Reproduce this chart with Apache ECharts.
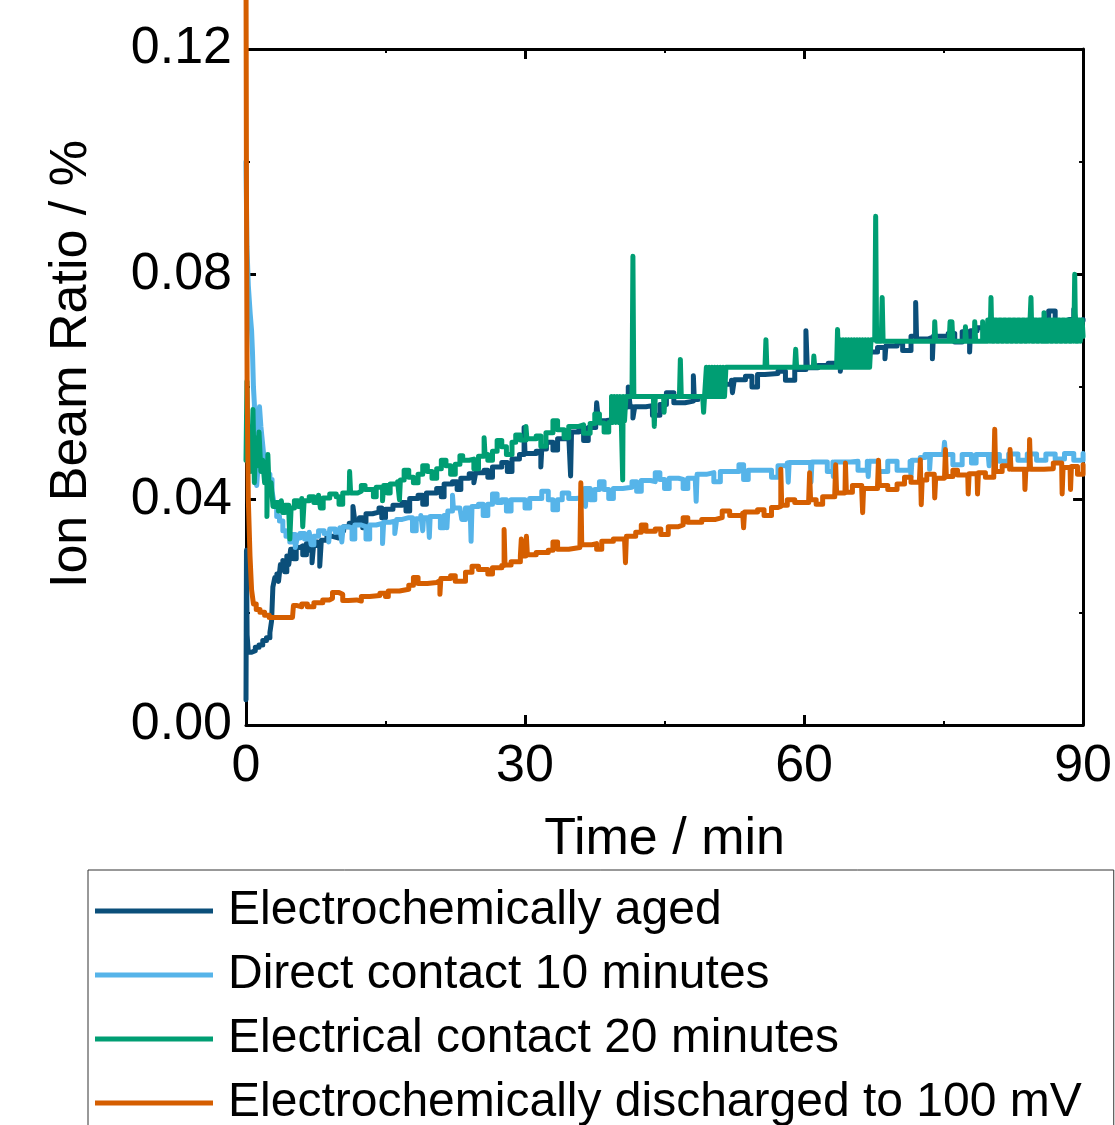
<!DOCTYPE html>
<html>
<head>
<meta charset="utf-8">
<script src="https://cdn.jsdelivr.net/npm/echarts@6/dist/echarts.min.js"></script>
<style>
html,body{margin:0;padding:0;background:#fff;}
#chart{width:1115px;height:1125px;}
</style>
</head>
<body>
<div id="chart"></div>
<script>
const seriesNames = ['Electrochemically aged', 'Direct contact 10 minutes', 'Electrical contact 20 minutes', 'Electrochemically discharged to 100 mV'];
const seriesColors = ['#0B4F7A', '#56B4E9', '#009E73', '#D55E00'];
const xTicks = [0, 30, 60, 90];
const yTicks = [0.00, 0.04, 0.08, 0.12];

const agedData = [
[0, 0.0045], [0.05, 0.031], [0.12, 0.016], [0.25, 0.0129], [0.6, 0.0132], [1.0, 0.0138], [1.4, 0.0142], [1.8, 0.0150], [2.2, 0.0155], [2.57, 0.0164], [2.75, 0.0185], [2.89, 0.0245], [3.1, 0.0262], [3.32, 0.0268], [3.5, 0.0255], [3.7, 0.0285], [3.96, 0.0292], [4.15, 0.0272], [4.39, 0.0300], [4.6, 0.0285], [4.8, 0.0312], [5.1, 0.0295], [5.4, 0.0315], [5.79, 0.0318], [6.1, 0.0302], [6.5, 0.0322], [6.8, 0.0310], [7.1, 0.0288], [7.3, 0.0325], [7.7, 0.0318], [7.93, 0.0282], [8.1, 0.0328], [8.7, 0.0335], [9.3, 0.0332], [9.9, 0.0345], [10.5, 0.0352], [11.1, 0.0358], [11.5, 0.0388], [11.7, 0.0362], [12.2, 0.0368], [12.55, 0.0350], [12.9, 0.0375], [13.6, 0.0378], [14.3, 0.0385], [14.6, 0.0368], [15.0, 0.0383], [15.8, 0.0390], [16.8, 0.0395], [17.2, 0.0380], [17.6, 0.0402], [18.5, 0.0408], [19.0, 0.0392], [19.4, 0.0412], [20.5, 0.0420], [21.0, 0.0405], [21.3, 0.0428], [22.2, 0.0432], [22.7, 0.0418], [23.1, 0.0438], [24.0, 0.0446], [24.5, 0.0430], [24.7, 0.0448], [25.6, 0.0452], [26.0, 0.0440], [26.5, 0.0458], [27.5, 0.0466], [28.1, 0.0450], [28.6, 0.0472], [29.4, 0.0480], [29.9, 0.0528], [30.0, 0.0482], [31.2, 0.0486], [31.7, 0.0458], [31.8, 0.0490], [32.3, 0.0502], [33.0, 0.0488], [33.5, 0.0508], [34.7, 0.0514], [34.9, 0.0442], [35.0, 0.0520], [35.8, 0.0530], [36.3, 0.0505], [36.8, 0.0528], [37.6, 0.0534], [37.7, 0.0572], [37.9, 0.0540], [38.7, 0.0542], [39.3, 0.0562], [40.2, 0.0565], [41.1, 0.0600], [41.3, 0.0565], [41.6, 0.0545], [41.8, 0.0565], [43.0, 0.0567], [43.7, 0.0550], [44.5, 0.0569], [45.2, 0.0590], [46.0, 0.0572], [47.2, 0.0575], [48.1, 0.0620], [48.2, 0.0578], [48.6, 0.0583], [49.5, 0.0590], [50.0, 0.0600], [51.0, 0.0605], [52.2, 0.0612], [52.3, 0.0590], [52.5, 0.0613], [53.7, 0.0619], [54.4, 0.0600], [55.0, 0.0622], [55.8, 0.0624], [57.2, 0.0628], [58.0, 0.0612], [59.0, 0.0631], [60.2, 0.0700], [60.35, 0.0634], [61.5, 0.0638], [62.6, 0.0642], [63.9, 0.0628], [64.0, 0.0648], [65.2, 0.0655], [65.8, 0.0640], [66.5, 0.0662], [67.9, 0.0670], [68.7, 0.0650], [68.8, 0.0673], [70.0, 0.0678], [70.6, 0.0665], [71.5, 0.0690], [72.0, 0.0750], [72.1, 0.0685], [73.3, 0.0688], [73.8, 0.0650], [73.9, 0.0690], [75.5, 0.0695], [76.2, 0.0680], [77.0, 0.0698], [77.8, 0.0662], [77.9, 0.0700], [78.6, 0.0705], [80.0, 0.0708], [81.5, 0.0710], [82.2, 0.0695], [83.0, 0.0712], [84.0, 0.0714], [85.5, 0.0715], [86.3, 0.0735], [87.0, 0.0716], [88.5, 0.0720], [89.0, 0.0738], [89.2, 0.0718], [90.0, 0.0720]
];

const directData = [
[0, 0.100], [0.1, 0.085], [0.25, 0.078], [0.45, 0.073], [0.6, 0.070], [0.7, 0.066], [0.8, 0.060], [0.9, 0.057], [0.96, 0.050], [1.05, 0.044], [1.15, 0.0425], [1.3, 0.046], [1.45, 0.0565], [1.6, 0.053], [1.75, 0.0505], [1.9, 0.048], [2.1, 0.0465], [2.3, 0.0445], [2.57, 0.0436], [2.8, 0.0415], [3.0, 0.0395], [3.3, 0.037], [3.6, 0.0362], [3.96, 0.0345], [4.3, 0.0335], [4.71, 0.0325], [5.0, 0.0338], [5.3, 0.0315], [5.5, 0.0332], [5.8, 0.0340], [6.3, 0.0330], [6.8, 0.0342], [7.0, 0.0320], [7.3, 0.0335], [7.8, 0.0345], [8.4, 0.0340], [8.9, 0.0325], [9.0, 0.0348], [9.6, 0.0342], [10.1, 0.0350], [10.3, 0.0325], [10.45, 0.0352], [11.0, 0.0350], [11.4, 0.0330], [11.7, 0.0355], [12.4, 0.0352], [12.9, 0.0330], [13.3, 0.0355], [14.0, 0.0358], [14.68, 0.0322], [14.8, 0.0360], [15.5, 0.0362], [16.0, 0.0340], [16.2, 0.0365], [16.8, 0.0368], [17.5, 0.0368], [17.9, 0.0345], [18.3, 0.0366], [18.8, 0.0372], [19.0, 0.0345], [19.1, 0.0368], [19.6, 0.0368], [19.71, 0.0333], [19.8, 0.0370], [20.5, 0.0370], [20.9, 0.0350], [21.3, 0.0372], [21.6, 0.0350], [21.7, 0.0380], [22.2, 0.0408], [22.3, 0.0385], [23.0, 0.0388], [23.2, 0.0365], [23.6, 0.0385], [24.1, 0.0388], [24.2, 0.0326], [24.3, 0.0388], [25.0, 0.0392], [25.5, 0.0372], [26.0, 0.0392], [26.5, 0.0410], [27.0, 0.0395], [27.5, 0.0400], [28.0, 0.0380], [28.5, 0.0400], [29.5, 0.0400], [30.0, 0.0385], [30.5, 0.0402], [31.2, 0.0402], [31.8, 0.0415], [32.5, 0.0400], [33.0, 0.0382], [33.5, 0.0400], [34.0, 0.0412], [34.7, 0.0402], [35.5, 0.0404], [36.4, 0.0420], [36.5, 0.0388], [36.6, 0.0420], [37.0, 0.0400], [37.5, 0.0418], [38.0, 0.0432], [38.5, 0.0418], [39.0, 0.0402], [39.5, 0.0420], [40.5, 0.0422], [41.5, 0.0432], [42.0, 0.0415], [42.5, 0.0434], [43.5, 0.0432], [44.0, 0.0448], [44.5, 0.0436], [45.0, 0.0420], [45.5, 0.0438], [46.5, 0.0436], [47.0, 0.0420], [47.5, 0.0438], [48.3, 0.0440], [48.4, 0.0397], [48.5, 0.0445], [49.5, 0.0448], [50.3, 0.0432], [51.0, 0.0450], [52.5, 0.0450], [53.0, 0.0462], [53.5, 0.0436], [54.0, 0.0452], [55.8, 0.0452], [56.5, 0.0440], [57.2, 0.0460], [58.2, 0.0465], [58.3, 0.0431], [58.4, 0.0466], [59.5, 0.0466], [60.7, 0.0466], [60.75, 0.0431], [60.85, 0.0467], [62.0, 0.0467], [62.5, 0.0450], [63.1, 0.0467], [63.15, 0.0441], [63.25, 0.0467], [65.0, 0.0468], [65.8, 0.0452], [66.8, 0.0468], [66.9, 0.0441], [67.0, 0.0468], [68.0, 0.0450], [69.0, 0.0468], [70.0, 0.0452], [71.4, 0.0468], [71.5, 0.0441], [71.6, 0.0470], [72.5, 0.0475], [73.0, 0.0480], [73.5, 0.0454], [73.6, 0.0480], [75.0, 0.0480], [75.1, 0.0502], [75.2, 0.0480], [76.0, 0.0462], [77.0, 0.0480], [78.0, 0.0465], [78.5, 0.0480], [79.8, 0.0480], [79.9, 0.0460], [80.0, 0.0480], [81.0, 0.0468], [82.0, 0.0481], [83.0, 0.0470], [84.0, 0.0481], [85.0, 0.0470], [86.0, 0.0481], [87.0, 0.0472], [88.0, 0.0482], [89.0, 0.0470], [90.0, 0.0482]
];

const contactData = [
[0, 0.047], [0.1, 0.061], [0.2, 0.048], [0.35, 0.053], [0.5, 0.045], [0.65, 0.050], [0.75, 0.056], [0.9, 0.043], [1.05, 0.051], [1.2, 0.046], [1.4, 0.052], [1.6, 0.045], [1.8, 0.047], [2.0, 0.043], [2.25, 0.037], [2.35, 0.048], [2.5, 0.041], [2.7, 0.043], [2.9, 0.0388], [3.2, 0.0395], [3.5, 0.0380], [3.8, 0.0398], [3.96, 0.0377], [4.2, 0.0390], [4.6, 0.0380], [4.71, 0.0330], [4.85, 0.0385], [5.2, 0.0398], [5.6, 0.0388], [6.0, 0.0402], [6.1, 0.0352], [6.25, 0.0398], [6.8, 0.0405], [7.3, 0.0395], [7.8, 0.0408], [8.0, 0.0385], [8.3, 0.0403], [9.0, 0.0410], [9.7, 0.0405], [10.0, 0.0392], [10.4, 0.0412], [11.1, 0.0410], [11.14, 0.0450], [11.25, 0.0412], [12.0, 0.0415], [12.4, 0.0425], [12.8, 0.0418], [13.3, 0.0418], [13.7, 0.0405], [14.0, 0.0422], [14.68, 0.0398], [14.8, 0.0425], [15.2, 0.0412], [15.5, 0.0428], [16.3, 0.0432], [16.5, 0.0400], [16.6, 0.0435], [17.0, 0.0452], [17.5, 0.0440], [18.0, 0.0430], [18.5, 0.0445], [19.0, 0.0460], [19.5, 0.0450], [20.0, 0.0438], [20.5, 0.0455], [21.0, 0.0470], [21.5, 0.0460], [22.0, 0.0445], [22.5, 0.0463], [23.0, 0.0478], [23.3, 0.0470], [24.0, 0.0472], [24.5, 0.0455], [25.0, 0.0477], [25.6, 0.0510], [25.7, 0.0480], [26.0, 0.0470], [26.5, 0.0486], [27.0, 0.0505], [27.5, 0.0494], [28.0, 0.0480], [28.6, 0.0502], [29.0, 0.0515], [29.5, 0.0506], [30.1, 0.0530], [30.2, 0.0508], [31.2, 0.0513], [31.7, 0.0495], [32.25, 0.0519], [33.0, 0.0540], [33.5, 0.0524], [34.2, 0.0510], [34.7, 0.0530], [35.8, 0.0533], [36.3, 0.0518], [37.0, 0.0535], [37.5, 0.0552], [38.0, 0.0536], [38.5, 0.0520], [39.0, 0.0537],
[39.3, 0.0583], [39.45, 0.0537], [39.6, 0.0583], [39.75, 0.0537], [39.9, 0.0583], [40.05, 0.0537], [40.2, 0.0583], [40.35, 0.0540], [40.5, 0.0435], [40.55, 0.0583], [40.7, 0.0540], [40.85, 0.0583],
[41.5, 0.0583], [41.6, 0.0832], [41.7, 0.0583], [43.8, 0.0583], [43.9, 0.0530], [44.0, 0.0583], [44.9, 0.0583], [44.95, 0.0555], [45.05, 0.0583], [46.6, 0.0583], [46.7, 0.0649], [46.8, 0.0583], [49.1, 0.0583], [49.2, 0.0555], [49.3, 0.0583],
[49.5, 0.0635], [49.65, 0.0583], [49.8, 0.0635], [49.95, 0.0583], [50.1, 0.0635], [50.25, 0.0583], [50.4, 0.0635], [50.55, 0.0583], [50.7, 0.0635], [50.85, 0.0583], [51.0, 0.0635], [51.15, 0.0583], [51.3, 0.0635], [51.45, 0.0583], [51.6, 0.0635],
[55.8, 0.0635], [55.9, 0.0684], [56.0, 0.0635], [59.0, 0.0635], [59.1, 0.0667], [59.2, 0.0635], [61.0, 0.0635], [61.05, 0.0655], [61.15, 0.0635], [63.5, 0.0635], [63.6, 0.0702],
[63.75, 0.0635], [63.9, 0.0684], [64.05, 0.0635], [64.2, 0.0684], [64.35, 0.0635], [64.5, 0.0684], [64.65, 0.0635], [64.8, 0.0684], [64.95, 0.0635], [65.1, 0.0684], [65.25, 0.0635], [65.4, 0.0684], [65.55, 0.0635], [65.7, 0.0684], [65.85, 0.0635], [66.0, 0.0684], [66.15, 0.0635], [66.3, 0.0684], [66.45, 0.0635], [66.6, 0.0684], [66.75, 0.0635], [66.9, 0.0684], [67.05, 0.0635], [67.2, 0.0684], [67.4, 0.0684],
[67.6, 0.0681], [67.7, 0.0903], [67.8, 0.0681], [68.3, 0.0681], [68.4, 0.0759], [68.5, 0.0681], [72.0, 0.0681], [74.0, 0.0681], [74.05, 0.0716], [74.15, 0.0681], [75.6, 0.0681], [75.7, 0.0716], [75.8, 0.0681], [75.9, 0.0716], [76.0, 0.0681], [77.3, 0.0681], [77.35, 0.0707], [77.45, 0.0681], [78.3, 0.0681], [78.35, 0.0716], [78.45, 0.0681], [79.2, 0.0716], [79.3, 0.0681],
[79.75, 0.0719], [80.0, 0.0681], [80.1, 0.0759], [80.2, 0.0681], [80.45, 0.0719], [80.7, 0.0681], [80.95, 0.0719], [81.2, 0.0681], [81.45, 0.0719], [81.7, 0.0681], [81.95, 0.0719], [82.2, 0.0681], [82.45, 0.0719], [82.7, 0.0681], [82.95, 0.0719], [83.2, 0.0681], [83.45, 0.0719], [83.7, 0.0681], [83.95, 0.0719], [84.2, 0.0681], [84.4, 0.0759], [84.5, 0.0681], [84.75, 0.0719], [85.0, 0.0681], [85.25, 0.0719], [85.5, 0.0681], [85.8, 0.0732], [86.0, 0.0681], [86.25, 0.0719], [86.5, 0.0681], [86.75, 0.0719], [87.0, 0.0681], [87.25, 0.0719], [87.5, 0.0681], [87.75, 0.0719], [88.0, 0.0681], [88.25, 0.0719], [88.5, 0.0681], [88.75, 0.0719], [89.0, 0.0681], [89.1, 0.0800], [89.2, 0.0681], [89.45, 0.0719], [89.7, 0.0681], [89.9, 0.0719], [90.0, 0.0690]
];

const dischargedData = [
[0, 0.135], [0.05, 0.095], [0.12, 0.060], [0.25, 0.040], [0.43, 0.030], [0.6, 0.024], [0.8, 0.0215], [1.1, 0.0205], [1.5, 0.0200], [2.0, 0.0195], [2.5, 0.0191], [3.5, 0.0191], [4.5, 0.0191], [5.0, 0.0192], [5.1, 0.0212], [5.5, 0.0210], [6.0, 0.0215], [6.6, 0.0210], [7.3, 0.0217], [8.25, 0.0222], [9.0, 0.0225], [9.3, 0.0235], [10.0, 0.0232], [10.4, 0.0221], [11.0, 0.0222], [11.89, 0.0220], [12.4, 0.0228], [13.3, 0.0230], [14.4, 0.0234], [15.0, 0.0228], [15.3, 0.0238], [16.5, 0.0241], [17.5, 0.0248], [18.0, 0.0262], [18.5, 0.0251], [19.5, 0.0253], [20.5, 0.0256], [20.85, 0.0232], [20.95, 0.0260], [22.0, 0.0265], [22.5, 0.0255], [23.6, 0.0271], [24.3, 0.0282], [25.0, 0.0276], [26.0, 0.0268], [26.5, 0.0279], [27.5, 0.0283], [27.75, 0.0347], [27.85, 0.0284], [28.5, 0.0290], [29.5, 0.0300], [29.6, 0.0330], [29.7, 0.0300], [30.1, 0.0300], [30.15, 0.0335], [30.25, 0.0302], [31.2, 0.0306], [32.5, 0.0310], [33.0, 0.0325], [33.5, 0.0312], [34.7, 0.0315], [35.9, 0.0318], [36.0, 0.0430], [36.1, 0.0320], [37.2, 0.0322], [37.7, 0.0312], [38.25, 0.0326], [39.5, 0.0330], [40.7, 0.0332], [40.8, 0.0288], [40.9, 0.0335], [41.9, 0.0342], [42.5, 0.0355], [43.0, 0.0344], [44.0, 0.0348], [44.6, 0.0338], [45.4, 0.0352], [46.5, 0.0355], [47.0, 0.0368], [47.5, 0.0360], [49.0, 0.0365], [50.5, 0.0368], [51.2, 0.0380], [52.0, 0.0372], [53.4, 0.0376], [53.5, 0.0350], [53.6, 0.0378], [55.0, 0.0382], [55.7, 0.0372], [56.5, 0.0386], [57.2, 0.0388], [57.5, 0.0454], [57.6, 0.0390], [58.2, 0.0400], [59.0, 0.0395], [60.5, 0.0400], [60.6, 0.0448], [60.7, 0.0400], [61.3, 0.0392], [62.0, 0.0405], [63.3, 0.0410], [63.4, 0.0462], [63.5, 0.0412], [64.4, 0.0413], [64.45, 0.0465], [64.55, 0.0413], [65.2, 0.0425], [66.2, 0.0418], [66.3, 0.0377], [66.4, 0.0420], [67.9, 0.0424], [68.0, 0.0470], [68.1, 0.0425], [69.0, 0.0418], [70.0, 0.0428], [70.8, 0.0440], [71.5, 0.0431], [72.4, 0.0433], [72.5, 0.0471], [72.6, 0.0391], [72.7, 0.0435], [73.2, 0.0445], [74.0, 0.0436], [74.05, 0.0403], [74.15, 0.0438], [75.1, 0.0441], [75.2, 0.0489], [75.3, 0.0441], [76.0, 0.0452], [76.5, 0.0444], [77.6, 0.0446], [77.65, 0.0410], [77.75, 0.0446], [78.6, 0.0448], [78.65, 0.0410], [78.75, 0.0448], [79.5, 0.0440], [80.4, 0.0450], [80.5, 0.0525], [80.6, 0.0450], [81.3, 0.0460], [82.1, 0.0454], [82.15, 0.0489], [82.25, 0.0454], [83.7, 0.0454], [83.75, 0.0418], [83.85, 0.0454], [84.2, 0.0454], [84.25, 0.0507], [84.35, 0.0454], [85.8, 0.0455], [86.8, 0.0465], [87.7, 0.0456], [87.75, 0.0410], [87.85, 0.0457], [88.6, 0.0458], [88.65, 0.0418], [88.75, 0.0459], [89.4, 0.0445], [90.0, 0.0462]
];

const allData = [agedData, directData, contactData, dischargedData];
const FONT = '"Liberation Sans", Arial, sans-serif';

const chart = echarts.init(document.getElementById('chart'), null, {renderer: 'canvas'});

function axisCommon(extra) {
  return Object.assign({
    type: 'value',
    axisLine: {show: true, onZero: false, lineStyle: {color: '#000', width: 3}},
    axisTick: {show: true, inside: true, length: 10, lineStyle: {color: '#000', width: 3}},
    minorTick: {show: true, splitNumber: 2, length: 4, lineStyle: {color: '#000', width: 2}},
    splitLine: {show: false},
    minorSplitLine: {show: false}
  }, extra);
}

const option = {
  animation: false,
  backgroundColor: '#ffffff',
  grid: {left: 246, right: 29, top: 49, bottom: 400, containLabel: false},
  xAxis: [
    axisCommon({
      position: 'bottom', min: xTicks[0], max: xTicks[xTicks.length - 1], interval: xTicks[1] - xTicks[0],
      axisLabel: {show: true, fontSize: 52, color: '#000', fontFamily: FONT, margin: 16},
      name: 'Time / min', nameLocation: 'middle', nameGap: 89,
      nameTextStyle: {fontSize: 52, color: '#000', fontFamily: FONT}
    }),
    axisCommon({
      position: 'top', min: xTicks[0], max: xTicks[xTicks.length - 1], interval: xTicks[1] - xTicks[0],
      axisLabel: {show: false}
    })
  ],
  yAxis: [
    axisCommon({
      position: 'left', min: yTicks[0], max: yTicks[yTicks.length - 1], interval: yTicks[1] - yTicks[0],
      axisLabel: {show: true, fontSize: 52, color: '#000', fontFamily: FONT, margin: 14,
        padding: [4, 0, 0, 0], formatter: v => v.toFixed(2)}
    }),
    axisCommon({
      position: 'right', min: yTicks[0], max: yTicks[yTicks.length - 1], interval: yTicks[1] - yTicks[0],
      axisLabel: {show: false}
    })
  ],
  legend: {
    show: true, orient: 'vertical', left: 88, top: 870, height: 400,
    icon: 'rect', itemWidth: 118, itemHeight: 5, itemGap: 16,
    padding: [17, 32, 14, 7],
    borderColor: '#333', borderWidth: 1,
    backgroundColor: '#fff',
    textStyle: {fontSize: 48, color: '#000', fontFamily: FONT, lineHeight: 48, padding: [0, 0, 0, 10]},
    data: seriesNames
  },
  graphic: [{
    type: 'text', x: 72, y: 364, rotation: Math.PI / 2,
    style: {text: 'Ion Beam Ratio / %', fontSize: 52, fontFamily: FONT, fill: '#000',
      align: 'center', verticalAlign: 'middle', textAlign: 'center', textVerticalAlign: 'middle'}
  }],
  series: seriesNames.map((name, i) => ({
    name: name, type: 'line', xAxisIndex: 0, yAxisIndex: 0,
    data: allData[i], showSymbol: false, symbol: 'none', step: 'end',
    clip: false, sampling: null,
    lineStyle: {color: seriesColors[i], width: 5, join: 'round', cap: 'round'},
    itemStyle: {color: seriesColors[i]},
    z: 2 + i
  }))
};
chart.setOption(option);
</script>
</body>
</html>
